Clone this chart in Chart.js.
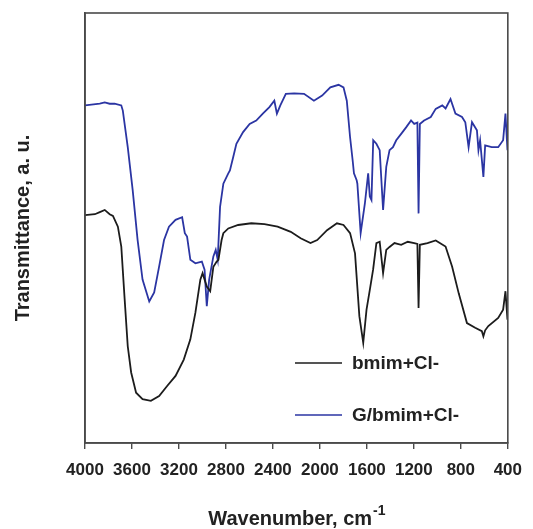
<!DOCTYPE html>
<html>
<head>
<meta charset="utf-8">
<script src="https://cdn.jsdelivr.net/npm/chart.js@4"></script>
<style>
html,body{margin:0;padding:0;background:#fff;}
#c{display:block;}
</style>
</head>
<body>
<canvas id="c" width="533" height="529"></canvas>
<script>
// ---- data ----
const seriesNames = ["bmim+Cl-", "G/bmim+Cl-"];
const xTickLabels = [4000, 3600, 3200, 2800, 2400, 2000, 1600, 1200, 800, 400];
const xTitle = "Wavenumber, cm";
const xTitleSup = "-1";
const yTitle = "Transmittance, a. u.";

const bmimWn = [4000,3916,3874,3832,3790,3762,3720,3691,3664,3636,3607,3565,3510,3439,3369,3299,3229,3159,3103,3060,3018,2999,2963,2934,2907,2879,2864,2837,2822,2780,2696,2584,2472,2360,2248,2164,2080,2023,1939,1855,1799,1743,1701,1664,1631,1603,1575,1547,1519,1491,1462,1435,1407,1365,1308,1252,1197,1170,1160,1149,1084,1014,930,874,818,748,678,621,608,593,566,482,440,420,403];
const bmimT  = [53.0,53.2,53.7,54.2,53.2,52.8,50.3,45.7,34.1,22.5,16.4,11.7,10.2,9.8,10.9,13.3,15.6,19.4,24.1,30.3,38.0,39.5,36.4,35.3,41.0,42.2,42.6,47.2,48.8,49.9,50.7,51.1,50.9,50.3,49.1,47.6,46.5,47.2,49.5,51.1,50.7,48.8,44.1,29.5,23.3,31.0,35.6,40.3,46.5,46.8,39.5,44.9,45.6,46.5,46.1,46.8,46.5,46.3,31.4,46.1,46.5,47.1,45.7,41.0,34.8,27.9,26.8,26.0,24.8,26.2,27.2,29.1,31.0,35.3,28.7];

const gWn = [4000,3874,3832,3790,3748,3691,3678,3636,3594,3552,3510,3453,3411,3369,3327,3285,3229,3173,3150,3131,3103,3060,3005,2982,2963,2943,2907,2887,2870,2850,2822,2780,2766,2738,2711,2654,2598,2542,2486,2430,2388,2366,2337,2290,2219,2135,2051,1981,1911,1841,1799,1771,1743,1721,1710,1687,1681,1653,1617,1589,1575,1561,1546,1519,1491,1462,1435,1407,1378,1350,1308,1266,1224,1197,1170,1160,1149,1113,1056,1014,958,930,888,846,790,762,734,705,663,650,636,608,593,537,482,440,420,403];
const gT  = [78.5,78.9,79.2,78.9,78.9,78.5,77.3,68.8,58.8,47.2,38.0,32.9,35.0,41.0,47.2,50.3,51.9,52.5,48.8,48.0,42.6,41.8,42.2,40.3,31.8,38.0,43.4,44.9,42.6,54.9,60.3,62.7,63.4,66.5,69.6,72.3,74.2,75.0,76.6,78.1,79.6,76.6,78.5,81.2,81.3,81.2,79.6,80.8,82.7,83.3,82.7,79.6,71.1,65.7,62.7,61.1,60.3,48.8,55.7,62.7,57.3,56.5,70.4,69.6,68.1,54.2,64.2,68.1,68.8,70.4,71.9,73.4,75.0,74.2,74.5,53.4,74.2,75.0,75.8,77.7,78.5,77.8,80.0,76.6,75.8,74.6,68.8,74.6,72.7,68.1,70.4,61.9,69.2,68.8,68.8,70.4,76.6,68.1];

// ---- styles ----
const colors = ["#1c1c1c", "#2b35a3"];
const textColor = "#222";
const axisColor = "#4a4a4a";
const fontFam = "'Liberation Sans', Arial, sans-serif";

function toPts(xs, ys){ return xs.map((x,i)=>({x:x, y:ys[i]})); }

const frame = {
  id:'frame',
  afterDraw(chart){
    const {ctx, chartArea:a} = chart;
    ctx.save();
    ctx.strokeStyle = axisColor;
    ctx.lineWidth = 1.6;
    ctx.strokeRect(a.left, a.top, a.right-a.left, a.bottom-a.top);
    // legend
    const lx0 = 295, lx1 = 342, tx = 352, rows = [363, 415];
    ctx.font = "bold 19px " + fontFam;
    ctx.textBaseline = 'middle';
    ctx.textAlign = 'left';
    chart.data.datasets.forEach((ds,i)=>{
      ctx.strokeStyle = ds.borderColor;
      ctx.lineWidth = 1.5;
      ctx.beginPath(); ctx.moveTo(lx0, rows[i]); ctx.lineTo(lx1, rows[i]); ctx.stroke();
      ctx.fillStyle = textColor;
      ctx.fillText(ds.label, tx, rows[i]+1);
    });
    // x title with superscript
    ctx.font = "bold 20px " + fontFam;
    const w1 = ctx.measureText(xTitle).width;
    ctx.font = "bold 14px " + fontFam;
    const w2 = ctx.measureText(xTitleSup).width;
    const cx = (a.left + a.right)/2;
    let x0 = cx - (w1 + w2)/2;
    ctx.textBaseline = 'alphabetic';
    ctx.fillStyle = textColor;
    ctx.font = "bold 20px " + fontFam;
    ctx.fillText(xTitle, x0, 525);
    ctx.font = "bold 14px " + fontFam;
    ctx.fillText(xTitleSup, x0 + w1 + 1, 515);
    ctx.restore();
  }
};

new Chart(document.getElementById('c'), {
  type: 'scatter',
  data: {
    datasets: [
      {label: seriesNames[0], data: toPts(bmimWn, bmimT), borderColor: colors[0], backgroundColor: colors[0]},
      {label: seriesNames[1], data: toPts(gWn, gT), borderColor: colors[1], backgroundColor: colors[1]}
    ].map(d => Object.assign(d, {showLine:true, pointRadius:0, borderWidth:1.8, tension:0, fill:false}))
  },
  options: {
    responsive: false,
    devicePixelRatio: 1,
    animation: false,
    layout: {padding: {top: 13, right: 20, left: 0, bottom: 0}},
    plugins: {legend: {display:false}, tooltip: {enabled:false}},
    scales: {
      x: {
        type: 'linear', reverse: true, min: 400, max: 4000,
        afterBuildTicks: s => { s.ticks = xTickLabels.map(v => ({value: v})); },
        afterFit: s => { s.height = 86; },
        grid: {display: true, drawOnChartArea: false, drawTicks: true, tickLength: 6, color: axisColor, lineWidth: 1.4},
        border: {display: true, color: axisColor, width: 1.6},
        ticks: {autoSkip: false, maxRotation: 0, padding: 11, color: textColor,
                font: {family: fontFam, size: 17, weight: 'bold'},
                callback: v => String(v)}
      },
      y: {
        min: 0, max: 100,
        afterFit: s => { s.width = 85; },
        grid: {display: false},
        border: {display: true, color: axisColor, width: 1.6},
        ticks: {display: false},
        title: {display: true, text: yTitle, color: textColor, padding: {top: 11, bottom: 0},
                font: {family: fontFam, size: 20, weight: 'bold'}}
      }
    }
  },
  plugins: [frame]
});
</script>
</body>
</html>
